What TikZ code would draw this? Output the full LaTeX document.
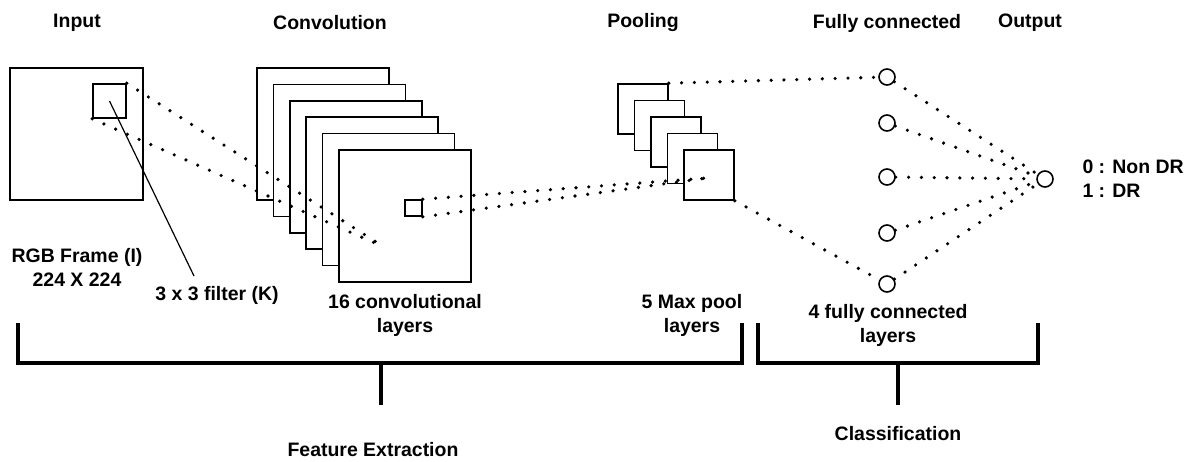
\documentclass[tikz,border=0pt]{standalone}
\usepackage{fontspec}
\setmainfont{Liberation Sans}

\tikzset{every picture/.style={line width=0.75pt}}
\tikzset{
	layer/.style={draw, fill=white, line width=1.2pt, inner sep=0pt, minimum size=99pt},
	poolmap/.style={layer, minimum size=37.5pt},
	neuron/.style={circle, draw, fill=white, line width=1.2pt, inner sep=0pt, minimum size=12pt},
	dotlink/.style={line width=2.7pt, line cap=round, dash pattern=on 0pt off 9.6pt},
	bracket/.style={line width=2.6pt},
	caption/.style={font=\fontsize{14.6}{18}\selectfont\bfseries, align=center, inner sep=0pt}
}

\begin{document}
\begin{tikzpicture}[x=0.75pt,y=0.75pt,yscale=-1,xscale=1]
	\useasboundingbox (0,0) rectangle (1188,461);

	%Shape: input frame and filter
	\node[layer, minimum width=99.75pt] (frame) at (76.5,134) {};
	\node[layer, minimum width=24.75pt, minimum height=25.5pt] (filter) at (109.5,101) {};

	%Shape: convolution maps
	\foreach \i in {1,...,6}
		\node[layer] (conv\i) at ({323+16.4*(\i-1)},{134+16.4*(\i-1)}) {};
	\node[layer, minimum width=12.75pt, minimum height=12pt] (win) at (413.5,208) {};

	%Shape: pooling maps
	\foreach \i in {1,...,5}
		\node[poolmap] (pool\i) at ({643+16.5*(\i-1)},{109+16.5*(\i-1)}) {};

	%Shape: neurons
	\foreach \i/\y in {1/77,2/123,3/177,4/233,5/284}
		\node[neuron] (fc\i) at (887,\y) {};
	\node[neuron] (out) at (1045,179) {};

	\coordinate (convhit) at (384,247);
	\coordinate (poolhit) at (707,178);
	\coordinate (ftip) at (194,276);

	%Dotted links
	\draw[dotlink] (filter.north east) -- (convhit);
	\draw[dotlink] (filter.south west) -- (convhit);
	\draw[dotlink] (win.north east) -- (poolhit);
	\draw[dotlink] (win.south east) -- (poolhit);
	\draw[dotlink] (pool1.north east) -- (fc1);
	\draw[dotlink] (pool5.south east) -- (fc5);
	\foreach \i in {1,...,5}
		\draw[dotlink] (fc\i) -- (out);

	%Straight Lines: filter pointer
	\draw[line width=0.9pt] (filter.center) -- (ftip);

	%Brackets
	\draw[bracket] (18,323) -- (18,363) -- (742,363) -- (742,323);
	\draw[bracket] (381,363) -- (381,405);
	\draw[bracket] (758,323) -- (758,363) -- (1038,363) -- (1038,323);
	\draw[bracket] (898,363) -- (898,405);

	% Text Node
	\node[caption] (tin) at (77,23) {Input};
	\node[caption] (tconv) at (330,23) {Convolution};
	\node[caption] (tpool) at (643,23) {Pooling};
	\node[caption] (tfc) at (887,23) {Fully connected};
	\node[caption] (tout) at (1030,23) {Output};
	% Text Node
	\node[caption] (frametxt) at (77,267.5) {RGB Frame (I)\\224 X 224};
	\node[caption] (flabel) at (217,295) {3 x 3 filter (K)};
	\node[caption] (convtxt) at (405,315) {16 convolutional\\layers};
	\node[caption] (pooltxt) at (692,315) {5 Max pool\\layers};
	\node[caption] (fctxt) at (888,325) {4 fully connected\\layers};
	\node[caption, align=left, anchor=west] (classes) at (1082,178.5) {0 : Non DR\\1 : DR};
	% Text Node
	\node[caption] (feat) at (373,450) {Feature Extraction};
	\node[caption] (cls) at (898,434) {Classification};

\end{tikzpicture}
\end{document}
